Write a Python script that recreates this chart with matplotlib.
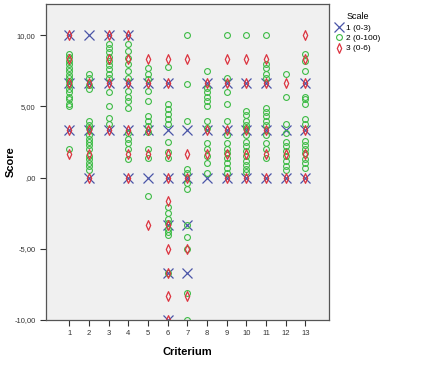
import matplotlib
matplotlib.use("Agg")
import matplotlib.pyplot as plt
from matplotlib.lines import Line2D
from matplotlib.path import Path

# ---------------------------------------------------
# Data: score per criterion, one list per criterion (1..13)
# ---------------------------------------------------
criteria = list(range(1, 14))

scale1 = [
    [10, 6.67, 3.33],
    [10, 6.67, 3.33, 0],
    [10, 6.67, 3.33],
    [10, 6.67, 3.33, 0],
    [6.67, 3.33, 0],
    [6.67, 3.33, 0, -3.33, -6.67, -10],
    [3.33, 0, -3.33, -6.67],
    [6.67, 3.33, 0],
    [6.67, 3.33, 0],
    [6.67, 3.33, 0],
    [6.67, 3.33, 0],
    [3.33, 0],
    [6.67, 3.33, 0],
]

scale2 = [
    [8.7, 8.5, 8.2, 8.0, 7.7, 7.5, 7.2, 7.0, 6.8, 6.5, 6.2, 6.0, 5.7, 5.5, 5.2, 5.0, 2.0],
    [7.3, 7.0, 6.5, 6.2, 4.0, 3.7, 3.5, 3.0, 2.7, 2.5, 2.3, 2.0, 1.5, 1.3, 1.0, 0.8, 0.5],
    [9.4, 9.1, 8.8, 8.5, 8.2, 7.9, 7.6, 7.3, 7.0, 6.0, 5.0, 4.2, 3.8],
    [9.4, 8.9, 8.4, 8.0, 7.5, 7.0, 6.1, 5.7, 5.4, 4.9, 3.1, 2.7, 2.4, 2.0, 1.3],
    [7.7, 7.3, 6.9, 6.1, 5.4, 4.3, 4.0, 3.6, 3.2, 2.0, 1.4, -1.3],
    [7.8, 5.2, 4.8, 4.5, 4.1, 3.8, 2.5, 1.8, 1.4, -2.1, -2.5, -2.9, -3.2, -3.6, -3.8, -4.0, -6.67],
    [10, 6.6, 4.0, 0.6, 0.3, -0.4, -0.8, -3.3, -4.2, -5.0, -8.1, -10],
    [7.5, 6.3, 6.0, 5.7, 5.4, 5.0, 4.0, 3.5, 2.4, 2.0, 1.5, 1.0, 0.3],
    [10, 7.0, 6.0, 5.2, 4.0, 3.0, 2.4, 2.0, 1.7, 1.4, 1.0, 0.7, 0.3],
    [10, 4.7, 4.4, 4.0, 3.7, 3.5, 3.0, 2.5, 2.2, 1.9, 1.5, 1.2, 0.9, 0.6, 0.4],
    [10, 8.0, 7.7, 7.3, 7.0, 4.9, 4.6, 4.3, 4.0, 3.7, 3.0, 2.4, 2.0, 1.4],
    [7.3, 5.7, 3.8, 3.1, 2.5, 2.2, 1.9, 1.5, 1.2, 0.8, 0.5],
    [8.7, 8.2, 7.5, 5.7, 5.5, 5.2, 4.1, 3.8, 2.6, 2.3, 2.0, 1.7, 1.3, 1.0, 0.7],
]

scale3 = [
    [10, 8.33, 6.67, 3.33, 1.67],
    [6.67, 3.33, 1.67, 0],
    [10, 8.33, 6.67, 3.33],
    [10, 8.33, 6.67, 3.33, 1.67, 0],
    [8.33, 6.67, 3.33, 1.67, -3.33],
    [8.33, 6.67, 1.67, 0, -1.67, -3.33, -5, -6.67, -8.33, -10],
    [8.33, 1.67, 0, -5, -8.33],
    [6.67, 3.33, 1.67],
    [8.33, 6.67, 3.33, 1.67, 0],
    [8.33, 6.67, 3.33, 1.67, 0],
    [8.33, 6.67, 3.33, 1.67, 0],
    [6.67, 1.67, 0],
    [10, 8.33, 6.67, 3.33, 1.67, 0],
]

scale_labels = ["1 (0-3)", "2 (0-100)", "3 (0-6)"]

# ---------------------------------------------------
# Plot
# ---------------------------------------------------
plt.rcParams["font.family"] = ["Liberation Sans", "DejaVu Sans"]

blue = "#4a55a8"
green = "#3dbb45"
red = "#dc3440"

# narrow diamond like the SPSS one
thin_diamond = Path([(0, 1), (0.45, 0), (0, -1), (-0.45, 0), (0, 1)],
                    [Path.MOVETO, Path.LINETO, Path.LINETO, Path.LINETO, Path.CLOSEPOLY])

fig = plt.figure(figsize=(4.21, 3.66), dpi=100)
ax = fig.add_axes([0.109, 0.126, 0.672, 0.863])
ax.set_facecolor("#f0f0f0")


def flatten(groups):
    xs, ys = [], []
    for c, vals in zip(criteria, groups):
        xs += [c] * len(vals)
        ys += vals
    return xs, ys


x1, y1 = flatten(scale1)
x2, y2 = flatten(scale2)
x3, y3 = flatten(scale3)

x_style = dict(ls="none", marker="x", ms=7.5, mew=0.9, color=blue)
o_style = dict(ls="none", marker="o", ms=4.2, mew=0.8, mfc="none", mec=green)
d_style = dict(ls="none", marker=thin_diamond, ms=7, mew=0.9, mfc="none", mec=red)

ax.plot(x1, y1, **x_style)
ax.plot(x2, y2, **o_style)
ax.plot(x3, y3, **d_style)

ax.set_xlim(-0.2, 14.2)
ax.set_ylim(-10, 12.2)
ax.set_xticks(criteria)
ax.set_yticks([-10, -5, 0, 5, 10])
ax.set_yticklabels(["-10,00", "-5,00", ",00", "5,00", "10,00"])
ax.tick_params(labelsize=5.5, colors="#333333", length=4, width=0.8)
for s in ax.spines.values():
    s.set_color("#555555")
    s.set_linewidth(0.9)

ax.set_xlabel("Criterium", fontsize=8, fontweight="bold")
ax.set_ylabel("Score", fontsize=8, fontweight="bold")
ax.xaxis.set_label_coords(0.5, -0.085)
ax.yaxis.set_label_coords(-0.105, 0.5)

handles = [Line2D([], [], **x_style), Line2D([], [], **o_style), Line2D([], [], **d_style)]
leg = fig.legend(handles, scale_labels, title="Scale", loc="upper left",
                 bbox_to_anchor=(0.79, 0.975), frameon=False, fontsize=6,
                 title_fontsize=6.5, handlelength=0.8, handletextpad=0.4,
                 labelspacing=0.3, borderaxespad=0)

fig.savefig("out.png", dpi=100)
